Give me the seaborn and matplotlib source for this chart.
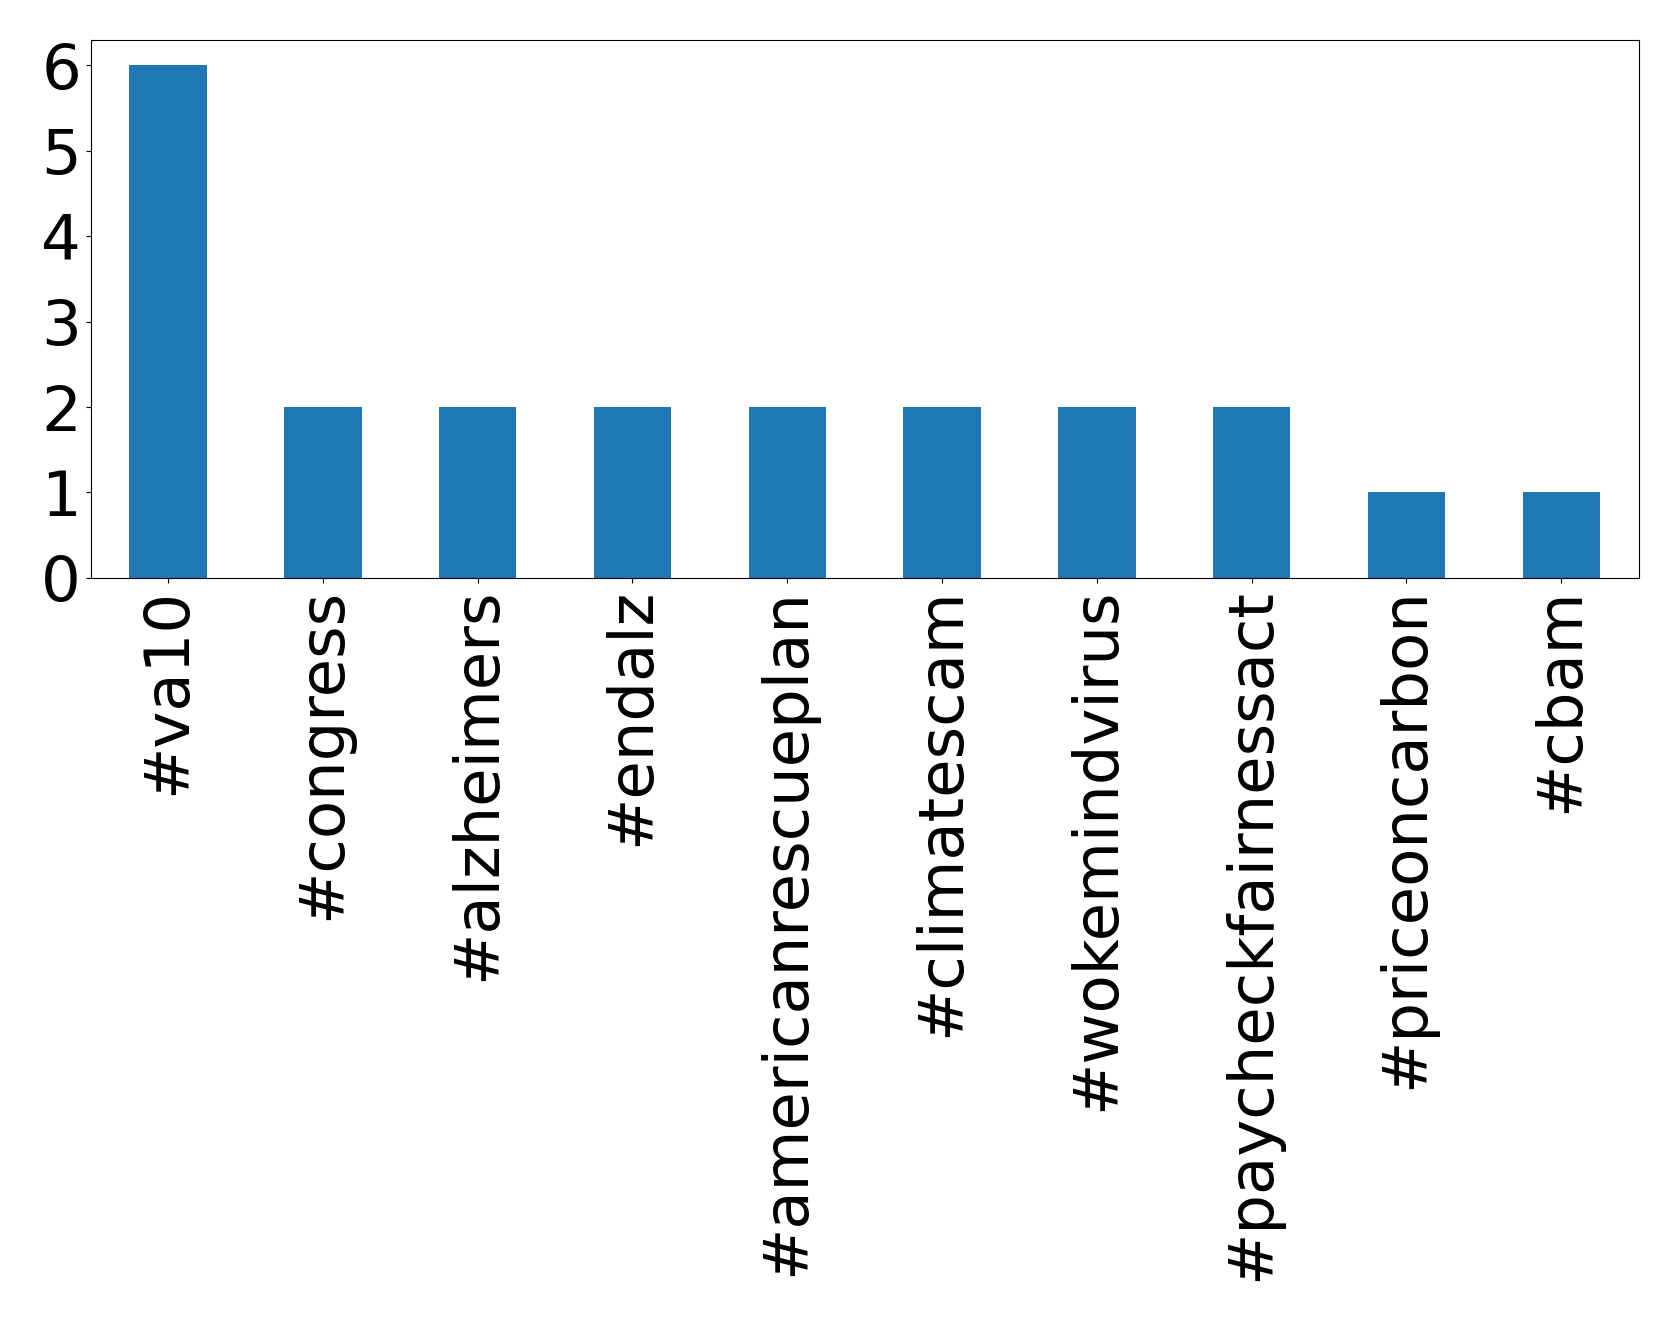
import matplotlib
matplotlib.use('Agg')
import matplotlib.pyplot as plt
import seaborn as sns

# hashtag counts
hashtags = ['#va10', '#congress', '#alzheimers', '#endalz', '#americanrescueplan',
            '#climatescam', '#wokemindvirus', '#paycheckfairnessact',
            '#priceoncarbon', '#cbam']
counts = [6, 2, 2, 2, 2, 2, 2, 2, 1, 1]
yticks = [0, 1, 2, 3, 4, 5, 6]

fig, ax = plt.subplots(figsize=(16.79, 13.21), dpi=100)
sns.barplot(x=hashtags, y=counts, color='#1f77b4', saturation=1, width=0.5, ax=ax)

ax.set_xlim(-0.5, len(hashtags) - 0.5)
ax.set_ylim(0, 6.3)
ax.set_yticks(yticks)
ax.tick_params(axis='both', labelsize=45)
ax.tick_params(axis='x', labelrotation=90)
ax.set_xlabel('')
ax.set_ylabel('')

fig.subplots_adjust(left=0.054, right=0.976, top=0.970, bottom=0.5625)
fig.savefig('out.png', dpi=100)
